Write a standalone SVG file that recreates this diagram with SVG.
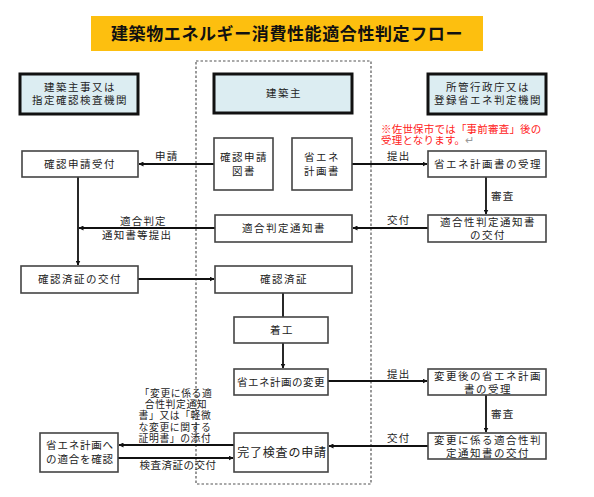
<svg xmlns="http://www.w3.org/2000/svg" width="594" height="497" viewBox="0 0 594 497">
<defs>
<style>
text{font-family:"Noto Sans CJK JP","Noto Sans CJK SC",sans-serif;fill:#222;}
.t{font-size:10.5px;letter-spacing:1.5px;text-anchor:middle;}
.l{font-size:10.5px;letter-spacing:1.2px;}
.box{fill:#fff;stroke:#444;stroke-width:1.6;}
.hdr{fill:#dcedf2;stroke:#111;stroke-width:3;}
.ln{stroke:#111;stroke-width:1.8;fill:none;}
.red{font-size:10.5px;fill:#ff2020;letter-spacing:0.2px;}
</style>
<marker id="ah" viewBox="0 0 10 10" refX="9" refY="5" markerWidth="5" markerHeight="5" orient="auto" markerUnits="userSpaceOnUse">
<path d="M0,0 L10,5 L0,10 z" fill="#111"/>
</marker>
</defs>
<rect width="594" height="497" fill="#fff"/>
<g id="title">
<rect x="91" y="16" width="392" height="35" fill="#fdbf0f"/>
<text x="287" y="40" style="font-size:17px;font-weight:bold;text-anchor:middle;fill:#111;letter-spacing:0.6px">建築物エネルギー消費性能適合性判定フロー</text>
</g>
<rect id="container" x="196" y="61" width="175" height="423" fill="none" stroke="#555" stroke-width="1.2" stroke-dasharray="2.5,2"/>
<g id="hdr-left"><rect class="hdr" x="20" y="74" width="118" height="40"/><text class="t" x="80" y="91">建築主事又は<tspan x="80" dy="13">指定確認検査機関</tspan></text></g>
<g id="hdr-center"><rect class="hdr" x="214" y="74" width="138" height="39"/><text class="t" x="284" y="97">建築主</text></g>
<g id="hdr-right"><rect class="hdr" x="428" y="74" width="118" height="40"/><text class="t" x="488" y="91">所管行政庁又は<tspan x="488" dy="13">登録省エネ判定機関</tspan></text></g>
<g id="note"><text class="red" x="381" y="133">※佐世保市では「事前審査」後の<tspan x="381" dy="11">受理となります。</tspan><tspan style="fill:#999">↵</tspan></text></g>
<g id="connectors">
<line class="ln" x1="214" y1="164" x2="139" y2="164" marker-end="url(#ah)"/>
<text class="l" x="155" y="160">申請</text>
<line class="ln" x1="352" y1="164" x2="427" y2="164" marker-end="url(#ah)"/>
<text class="l" x="387" y="160">提出</text>
<line class="ln" x1="486" y1="177" x2="486" y2="214" marker-end="url(#ah)"/>
<text class="l" x="491" y="200">審査</text>
<line class="ln" x1="428" y1="228" x2="353" y2="228" marker-end="url(#ah)"/>
<text class="l" x="387" y="224">交付</text>
<line class="ln" x1="215" y1="228" x2="79" y2="228" marker-end="url(#ah)"/>
<text class="l" x="120" y="225">適合判定<tspan x="102" dy="14">通知書等提出</tspan></text>
<line class="ln" x1="78" y1="177" x2="78" y2="265" marker-end="url(#ah)"/>
<line class="ln" x1="138" y1="279" x2="214" y2="279" marker-end="url(#ah)"/>
<line class="ln" x1="283" y1="293" x2="283" y2="317"/>
<line class="ln" x1="283" y1="343" x2="283" y2="368" marker-end="url(#ah)"/>
<line class="ln" x1="328" y1="381" x2="427" y2="381" marker-end="url(#ah)"/>
<text class="l" x="387" y="378">提出</text>
<line class="ln" x1="486" y1="395" x2="486" y2="432" marker-end="url(#ah)"/>
<text class="l" x="491" y="418">審査</text>
<line class="ln" x1="428" y1="446" x2="329" y2="446" marker-end="url(#ah)"/>
<text class="l" x="387" y="442">交付</text>
<line class="ln" x1="234" y1="445" x2="119" y2="445" marker-end="url(#ah)"/>
<line class="ln" x1="118" y1="458" x2="233" y2="458" marker-end="url(#ah)"/>
<text class="t" style="font-size:9.8px;letter-spacing:0.6px" x="176" y="397">「変更に係る適<tspan x="176" dy="11.2">合性判定通知</tspan><tspan x="175" dy="11.2">書」又は「軽微</tspan><tspan x="175" dy="11.2">な変更に関する</tspan><tspan x="175" dy="11.2">証明書」の添付</tspan></text>
<text class="t" style="letter-spacing:0.5px" x="178" y="469">検査済証の交付</text>
</g>
<g id="n-kakunin-uketsuke"><rect class="box" x="22" y="151" width="116" height="26"/><text class="t" x="80" y="168">確認申請受付</text></g>
<g id="n-kakunin-zusho"><rect class="box" x="214" y="138" width="59" height="52"/><text class="t" x="244" y="161">確認申請<tspan x="244" dy="14">図書</tspan></text></g>
<g id="n-shoene-keikaku"><rect class="box" x="292" y="138" width="60" height="52"/><text class="t" x="322" y="161">省エネ<tspan x="322" dy="14">計画書</tspan></text></g>
<g id="n-shoene-juri"><rect class="box" x="428" y="151" width="118" height="26"/><text class="t" x="488" y="168">省エネ計画書の受理</text></g>
<g id="n-tekigo-kofu"><rect class="box" x="428" y="215" width="118" height="27"/><text class="t" x="488" y="226">適合性判定通知書<tspan x="488" dy="13">の交付</tspan></text></g>
<g id="n-tekigo-tsuchi"><rect class="box" x="215" y="215" width="137" height="27"/><text class="t" x="284" y="232">適合判定通知書</text></g>
<g id="n-kakunin-kofu"><rect class="box" x="21" y="266" width="117" height="27"/><text class="t" x="80" y="283">確認済証の交付</text></g>
<g id="n-kakuninzumi"><rect class="box" x="215" y="266" width="137" height="27"/><text class="t" x="284" y="283">確認済証</text></g>
<g id="n-chakko"><rect class="box" x="234" y="317" width="94" height="26"/><text class="t" x="282" y="334">着工</text></g>
<g id="n-henko"><rect class="box" x="234" y="369" width="94" height="26"/><text class="t" style="letter-spacing:0.5px" x="281" y="386">省エネ計画の変更</text></g>
<g id="n-henko-juri"><rect class="box" x="428" y="369" width="118" height="26"/><text class="t" x="488" y="380">変更後の省エネ計画<tspan x="488" dy="13">書の受理</tspan></text></g>
<g id="n-henko-kofu"><rect class="box" x="428" y="433" width="118" height="26"/><text class="t" x="488" y="444">変更に係る適合性判<tspan x="488" dy="13">定通知書の交付</tspan></text></g>
<g id="n-kanryo"><rect class="box" x="234" y="433" width="94" height="39"/><text class="t" style="font-size:12px;letter-spacing:0.8px" x="282" y="457">完了検査の申請</text></g>
<g id="n-tekigo-kakunin"><rect class="box" x="40" y="433" width="78" height="39"/><text class="t" style="letter-spacing:0.8px" x="80" y="449">省エネ計画へ<tspan x="80" dy="14">の適合を確認</tspan></text></g>
</svg>
